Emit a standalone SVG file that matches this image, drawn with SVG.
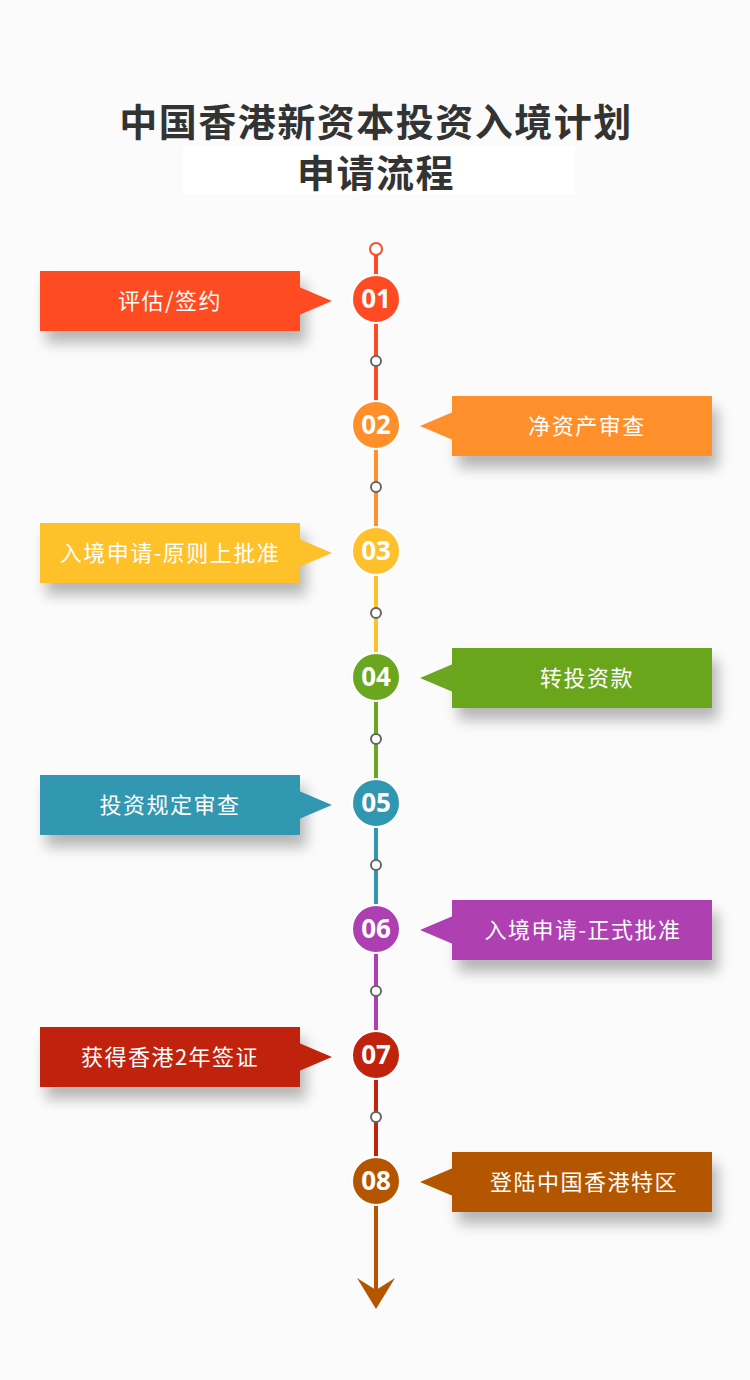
<svg xmlns="http://www.w3.org/2000/svg" width="750" height="1380" viewBox="0 0 750 1380">
<defs>
<style>
.title{font-family:"Noto Sans CJK SC","Noto Sans",sans-serif;font-weight:700;font-size:38px;fill:#333;text-anchor:middle;letter-spacing:1.5px}
.lbl{font-family:"Noto Sans CJK SC","Noto Sans",sans-serif;font-size:22px;fill:#fff;text-anchor:middle;letter-spacing:1.5px}
.num{font-family:"Noto Sans","Open Sans",sans-serif;font-weight:700;font-size:26px;fill:#fff;text-anchor:middle}
.dot{fill:#fff;stroke:#666;stroke-width:2}
.seg{stroke-width:4;fill:none}
</style>
<filter id="sh" x="-20%" y="-30%" width="140%" height="200%">
<feGaussianBlur in="SourceAlpha" stdDeviation="7"/>
<feOffset dx="6" dy="12"/>
<feComponentTransfer><feFuncA type="linear" slope="0.28"/></feComponentTransfer>
<feMerge><feMergeNode/><feMergeNode in="SourceGraphic"/></feMerge>
</filter>
</defs>
<rect width="750" height="1380" fill="#fbfbfb"/>
<rect x="183" y="146" width="392" height="48" fill="#ffffff"/>
<g id="title">
<text class="title" x="376" y="136">中国香港新资本投资入境计划</text>
<text class="title" x="376" y="187">申请流程</text>
</g>
<g id="connectors">
<line class="seg" stroke="#ff4b23" x1="376" y1="255" x2="376" y2="276"/>
<line class="seg" stroke="#ff4b23" x1="376" y1="322" x2="376" y2="402"/>
<line class="seg" stroke="#ff8f2b" x1="376" y1="448" x2="376" y2="528"/>
<line class="seg" stroke="#ffc12b" x1="376" y1="574" x2="376" y2="654"/>
<line class="seg" stroke="#6aa61f" x1="376" y1="700" x2="376" y2="780"/>
<line class="seg" stroke="#3197b1" x1="376" y1="826" x2="376" y2="906"/>
<line class="seg" stroke="#ae3fb2" x1="376" y1="952" x2="376" y2="1032"/>
<line class="seg" stroke="#c0230b" x1="376" y1="1078" x2="376" y2="1158"/>
<line class="seg" stroke="#b45600" x1="376" y1="1204" x2="376" y2="1290"/>
<polygon points="357,1278 376,1290 395,1278 376,1309" fill="#b45600"/>
<circle cx="376" cy="249" r="6" fill="#fff" stroke="#ff4b23" stroke-width="2"/>
<circle class="dot" cx="376" cy="361" r="5"/>
<circle class="dot" cx="376" cy="487" r="5"/>
<circle class="dot" cx="376" cy="613" r="5"/>
<circle class="dot" cx="376" cy="739" r="5"/>
<circle class="dot" cx="376" cy="865" r="5"/>
<circle class="dot" cx="376" cy="991" r="5"/>
<circle class="dot" cx="376" cy="1117" r="5"/>
</g>
<g id="step01">
<g filter="url(#sh)"><rect x="40" y="271" width="260" height="60" fill="#ff4b23"/></g>
<polygon points="299,287 332,301 299,315" fill="#ff4b23"/>
<text class="lbl" x="170" y="309">评估/签约</text>
<circle cx="376" cy="299" r="24" fill="#ff4b23" stroke="#fff" stroke-width="2"/>
<text class="num" x="376" y="308">01</text>
</g>
<g id="step02">
<g filter="url(#sh)"><rect x="452" y="396" width="260" height="60" fill="#ff8f2b"/></g>
<polygon points="453,412 420,426 453,440" fill="#ff8f2b"/>
<text class="lbl" x="587" y="434">净资产审查</text>
<circle cx="376" cy="425" r="24" fill="#ff8f2b" stroke="#fff" stroke-width="2"/>
<text class="num" x="376" y="434">02</text>
</g>
<g id="step03">
<g filter="url(#sh)"><rect x="40" y="523" width="260" height="60" fill="#ffc12b"/></g>
<polygon points="299,539 332,553 299,567" fill="#ffc12b"/>
<text class="lbl" x="170" y="561">入境申请-原则上批准</text>
<circle cx="376" cy="551" r="24" fill="#ffc12b" stroke="#fff" stroke-width="2"/>
<text class="num" x="376" y="560">03</text>
</g>
<g id="step04">
<g filter="url(#sh)"><rect x="452" y="648" width="260" height="60" fill="#6aa61f"/></g>
<polygon points="453,664 420,678 453,692" fill="#6aa61f"/>
<text class="lbl" x="587" y="686">转投资款</text>
<circle cx="376" cy="677" r="24" fill="#6aa61f" stroke="#fff" stroke-width="2"/>
<text class="num" x="376" y="686">04</text>
</g>
<g id="step05">
<g filter="url(#sh)"><rect x="40" y="775" width="260" height="60" fill="#3197b1"/></g>
<polygon points="299,791 332,805 299,819" fill="#3197b1"/>
<text class="lbl" x="170" y="813">投资规定审查</text>
<circle cx="376" cy="803" r="24" fill="#3197b1" stroke="#fff" stroke-width="2"/>
<text class="num" x="376" y="812">05</text>
</g>
<g id="step06">
<g filter="url(#sh)"><rect x="452" y="900" width="260" height="60" fill="#ae3fb2"/></g>
<polygon points="453,916 420,930 453,944" fill="#ae3fb2"/>
<text class="lbl" x="583" y="938">入境申请-正式批准</text>
<circle cx="376" cy="929" r="24" fill="#ae3fb2" stroke="#fff" stroke-width="2"/>
<text class="num" x="376" y="938">06</text>
</g>
<g id="step07">
<g filter="url(#sh)"><rect x="40" y="1027" width="260" height="60" fill="#c0230b"/></g>
<polygon points="299,1043 332,1057 299,1071" fill="#c0230b"/>
<text class="lbl" x="170" y="1065">获得香港2年签证</text>
<circle cx="376" cy="1055" r="24" fill="#c0230b" stroke="#fff" stroke-width="2"/>
<text class="num" x="376" y="1064">07</text>
</g>
<g id="step08">
<g filter="url(#sh)"><rect x="452" y="1152" width="260" height="60" fill="#b45600"/></g>
<polygon points="453,1168 420,1182 453,1196" fill="#b45600"/>
<text class="lbl" x="584" y="1190">登陆中国香港特区</text>
<circle cx="376" cy="1181" r="24" fill="#b45600" stroke="#fff" stroke-width="2"/>
<text class="num" x="376" y="1190">08</text>
</g>
</svg>
